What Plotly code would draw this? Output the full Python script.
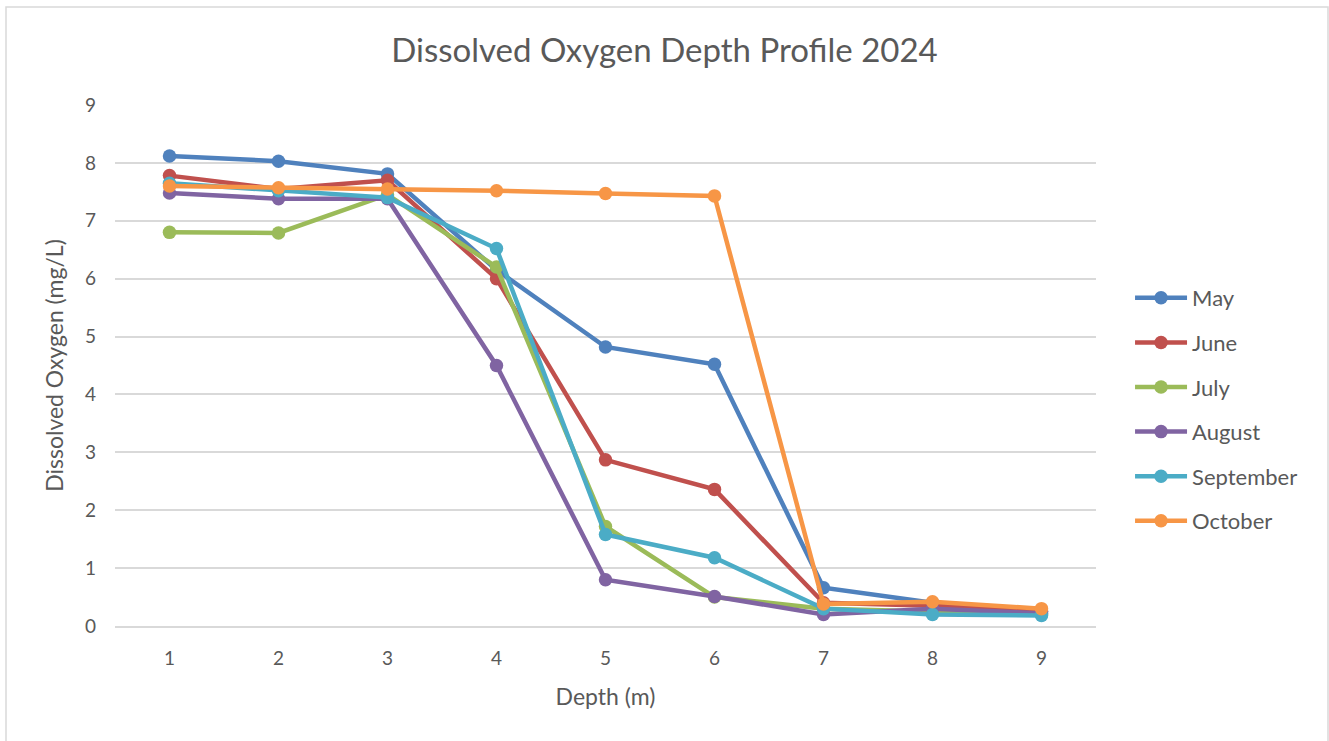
import plotly.graph_objects as go

depth = [1, 2, 3, 4, 5, 6, 7, 8, 9]
may = [8.12, 8.03, 7.81, 6.15, 4.82, 4.52, 0.66, 0.40, 0.25]
june = [7.78, 7.55, 7.70, 6.00, 2.87, 2.36, 0.40, 0.35, 0.25]
july = [6.80, 6.79, 7.45, 6.20, 1.72, 0.50, 0.30, 0.25, 0.20]
august = [7.48, 7.38, 7.38, 4.50, 0.80, 0.51, 0.20, 0.30, 0.22]
september = [7.65, 7.52, 7.40, 6.52, 1.58, 1.18, 0.30, 0.20, 0.18]
october = [7.60, 7.57, 7.55, 7.52, 7.47, 7.43, 0.38, 0.42, 0.30]

series = [
    ("May", may, "#4F81BD"),
    ("June", june, "#C0504D"),
    ("July", july, "#9BBB59"),
    ("August", august, "#8064A2"),
    ("September", september, "#4BACC6"),
    ("October", october, "#F79646"),
]

FONT = "Lato, 'Open Sans', sans-serif"
GREY = "#595959"

fig = go.Figure()
for i, (name, vals, col) in enumerate(series):
    fig.add_trace(go.Scatter(
        x=depth, y=vals, name=name, mode="lines+markers",
        line=dict(color=col, width=4.5),
        marker=dict(color=col, size=13.5),
        legendgroup=f"g{i}",
    ))

fig.update_layout(
    width=1329, height=741,
    paper_bgcolor="white", plot_bgcolor="white",
    margin=dict(l=115, r=233, t=105, b=115),
    title=dict(text="Dissolved Oxygen Depth Profile 2024", x=0.5, xanchor="center",
               y=1 - 50 / 741, yanchor="middle",
               font=dict(family=FONT, size=33, color=GREY)),
    xaxis=dict(range=[0.5, 9.5], tickvals=depth, showgrid=False, zeroline=False,
               showline=True, linecolor="#D9D9D9", linewidth=1.5,
               tickfont=dict(family=FONT, size=19, color=GREY), ticks="",
               ticklabelstandoff=14,
               title=dict(text="Depth (m)", font=dict(family=FONT, size=23, color=GREY),
                          standoff=21)),
    yaxis=dict(range=[0, 9], dtick=1, showgrid=True, gridcolor="#D9D9D9", gridwidth=1.5,
               zeroline=False, showline=False, ticks="",
               tickfont=dict(family=FONT, size=19, color=GREY),
               ticklabelstandoff=18,
               title=dict(text="Dissolved Oxygen (mg/L)", font=dict(family=FONT, size=23, color=GREY),
                          standoff=14)),
    legend=dict(x=1.0347, xanchor="left", y=0.4155, yanchor="middle",
                font=dict(family=FONT, size=22, color=GREY),
                itemwidth=52,
                tracegroupgap=13, traceorder="grouped"),
    shapes=[dict(type="rect", xref="paper", yref="paper",
                 x0=(6 - 115) / 981, x1=(1328 - 115) / 981,
                 y0=(626 - 760) / 521, y1=(626 - 7) / 521,
                 line=dict(color="#D9D9D9", width=1.5), fillcolor="rgba(0,0,0,0)", layer="below")],
)

fig.write_html("out.html", config={"displayModeBar": False},
               post_script="document.body.style.margin='0';document.body.style.overflow='hidden';")
